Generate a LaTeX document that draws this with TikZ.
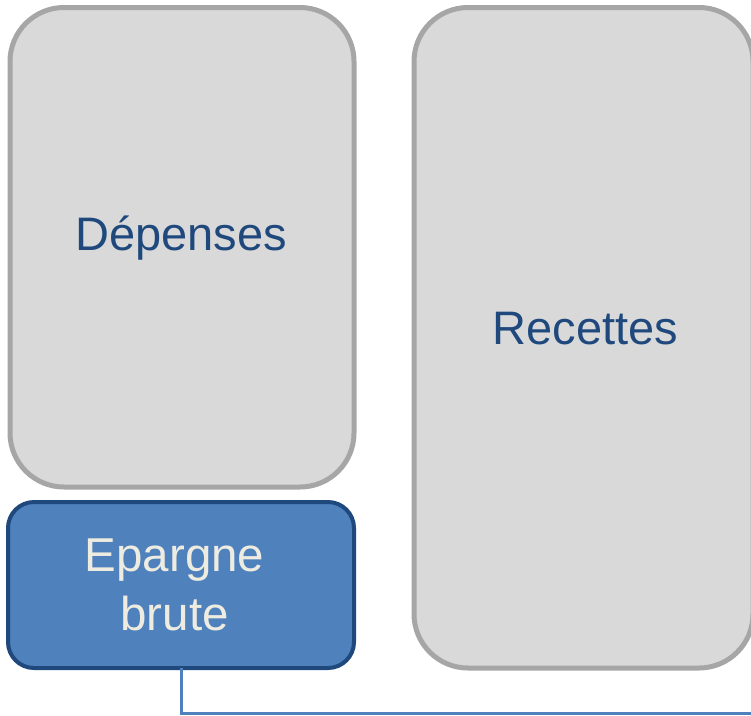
\documentclass[tikz,border=0pt]{standalone}
\usepackage{fontspec}
\setmainfont{Liberation Sans}
\definecolor{boxgray}{HTML}{D9D9D9}
\definecolor{edgegray}{HTML}{A6A6A6}
\definecolor{darkblue}{HTML}{1F497D}
\definecolor{midblue}{HTML}{4F81BD}
\definecolor{cream}{HTML}{EEECE1}
\tikzset{
  graybox/.style={draw=edgegray, fill=boxgray, line width=5pt, rounded corners=54pt,
    rectangle, inner sep=0pt, outer sep=0pt},
  bluebox/.style={draw=darkblue, fill=midblue, line width=4pt, rounded corners=26pt,
    rectangle, inner sep=0pt, outer sep=0pt},
  boxlabel/.style={text=darkblue, font=\fontsize{47pt}{59pt}\selectfont},
  bluelabel/.style={text=cream, align=center, font=\fontsize{47.5pt}{59pt}\selectfont},
  link/.style={draw=midblue, line width=3pt}
}
\begin{document}
\begin{tikzpicture}[x=1pt,y=1pt]
\useasboundingbox[fill=white] (0,0) rectangle (751,-715);
\node[graybox, minimum width=344pt, minimum height=479.5pt] (dep) at (182,-247.25) {};
\node[boxlabel] (deplabel) at ([xshift=-1pt,yshift=9pt]dep.center) {Dépenses};
\node[graybox, minimum width=339pt, minimum height=660.5pt] (rec) at (583.5,-337.75) {};
\node[boxlabel] (reclabel) at ([xshift=2pt,yshift=9pt]rec.center) {Recettes};
\node[bluebox, minimum width=346pt, minimum height=166pt] (epa) at (181,-585) {};
\node[bluelabel] (epalabel) at ([xshift=-6.5pt,yshift=0pt]epa.center) {Epargne\\brute};
\coordinate (end) at (751,-713);
\draw[link] ([xshift=0.7pt]epa.south) |- (end);
\end{tikzpicture}
\end{document}
